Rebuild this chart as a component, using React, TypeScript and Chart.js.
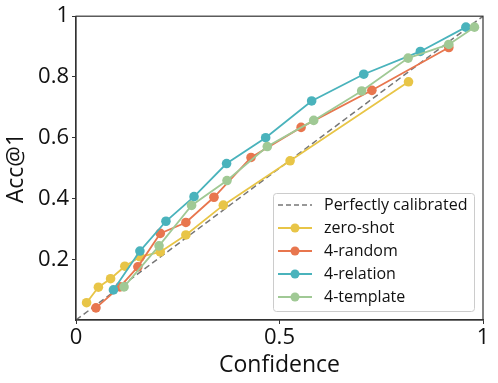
import React, { useEffect, useRef } from "react";
import { Chart, registerables } from "chart.js";

Chart.register(...registerables);

const FONT = '"Open Sans", "Noto Sans", sans-serif';

const seriesNames = ["zero-shot", "4-random", "4-relation", "4-template"];
const seriesColors = ["#E8C547", "#E8764E", "#4AB3BC", "#A0C995"];

const zeroShotX = [0.026, 0.055, 0.085, 0.12, 0.158, 0.207, 0.27, 0.362, 0.526, 0.817];
const zeroShotY = [0.057, 0.108, 0.136, 0.177, 0.208, 0.224, 0.28, 0.378, 0.524, 0.784];

const randomX = [0.049, 0.108, 0.152, 0.207, 0.27, 0.339, 0.43, 0.553, 0.727, 0.916];
const randomY = [0.04, 0.109, 0.175, 0.285, 0.321, 0.404, 0.535, 0.634, 0.756, 0.897];

const relationX = [0.092, 0.157, 0.221, 0.29, 0.37, 0.466, 0.579, 0.707, 0.846, 0.958];
const relationY = [0.099, 0.227, 0.325, 0.406, 0.515, 0.6, 0.721, 0.809, 0.884, 0.964];

const templateX = [0.118, 0.204, 0.284, 0.371, 0.47, 0.584, 0.702, 0.816, 0.916, 0.979];
const templateY = [0.109, 0.244, 0.377, 0.459, 0.571, 0.657, 0.754, 0.862, 0.907, 0.964];

const diagX = [0, 1];
const diagY = [0, 1];

const xTicks = [0, 0.5, 1];
const yTicks = [0.2, 0.4, 0.6, 0.8, 1];

const zip = (xs: number[], ys: number[]) => xs.map((x, i) => ({ x, y: ys[i] }));

const framePlugin = {
  id: "frame",
  afterDatasetsDraw(chart: any) {
    const { ctx, chartArea } = chart;
    ctx.save();
    ctx.strokeStyle = "#333";
    ctx.lineWidth = 1.2;
    ctx.strokeRect(chartArea.left, chartArea.top, chartArea.right - chartArea.left, chartArea.bottom - chartArea.top);
    ctx.restore();
  },
};

const legendPlugin = {
  id: "mplLegend",
  afterDraw(chart: any) {
    const { ctx, chartArea } = chart;
    const w = 201;
    const h = 118;
    const x0 = chartArea.right - 9 - w;
    const y0 = chartArea.bottom - 9 - h;
    ctx.save();
    ctx.fillStyle = "rgba(255,255,255,0.85)";
    ctx.strokeStyle = "#cccccc";
    ctx.lineWidth = 1;
    ctx.beginPath();
    (ctx as any).roundRect(x0 + 0.5, y0 + 0.5, w, h, 3);
    ctx.fill();
    ctx.stroke();
    const labels = ["Perfectly calibrated", ...seriesNames];
    ctx.font = `16px ${FONT}`;
    ctx.textBaseline = "middle";
    labels.forEach((lab, i) => {
      const cy = y0 + 12 + i * 23;
      const lx1 = x0 + 5;
      const lx2 = x0 + 39;
      ctx.beginPath();
      if (i === 0) {
        ctx.strokeStyle = "#777777";
        ctx.setLineDash([5, 3]);
        ctx.lineWidth = 1.5;
      } else {
        ctx.strokeStyle = seriesColors[i - 1];
        ctx.setLineDash([]);
        ctx.lineWidth = 1.8;
      }
      ctx.moveTo(lx1, cy);
      ctx.lineTo(lx2, cy);
      ctx.stroke();
      ctx.setLineDash([]);
      if (i > 0) {
        ctx.fillStyle = seriesColors[i - 1];
        ctx.beginPath();
        ctx.arc((lx1 + lx2) / 2, cy, 4.5, 0, Math.PI * 2);
        ctx.fill();
      }
      ctx.fillStyle = "#111";
      ctx.fillText(lab, x0 + 51, cy);
    });
    ctx.restore();
  },
};

export default function App() {
  const ref = useRef<HTMLCanvasElement | null>(null);
  useEffect(() => {
    if (!ref.current) return;
    const xs = [zeroShotX, randomX, relationX, templateX];
    const ys = [zeroShotY, randomY, relationY, templateY];
    const datasets: any[] = [
      {
        label: "Perfectly calibrated",
        data: zip(diagX, diagY),
        showLine: true,
        borderColor: "#777777",
        borderDash: [6, 3.5],
        borderWidth: 1.5,
        pointRadius: 0,
        order: 10,
      },
      ...seriesNames.map((name, i) => ({
        label: name,
        data: zip(xs[i], ys[i]),
        showLine: true,
        borderColor: seriesColors[i],
        backgroundColor: seriesColors[i],
        borderWidth: 1.8,
        pointRadius: 4.8,
        pointBorderWidth: 0,
        pointHoverRadius: 4.8,
        order: 5 - i,
      })),
    ];
    const chart = new Chart(ref.current, {
      type: "scatter",
      data: { datasets },
      options: {
        animation: false,
        responsive: false,
        events: [],
        layout: { padding: { left: 0, top: 16, right: 15, bottom: 0 } },
        plugins: { legend: { display: false }, tooltip: { enabled: false } },
        scales: {
          x: {
            type: "linear",
            min: 0,
            max: 1,
            afterBuildTicks: (s: any) => {
              s.ticks = xTicks.map((v) => ({ value: v }));
            },
            afterFit: (s: any) => {
              s.height = 63;
            },
            ticks: {
              color: "#111",
              font: { family: FONT, size: 22 },
              padding: 1,
              maxRotation: 0,
              callback: (v: any) => String(v),
            },
            grid: { drawOnChartArea: false, drawTicks: true, tickLength: 4, color: "#333", tickWidth: 1 },
            border: { color: "#333", width: 1.2 },
            title: {
              display: true,
              text: "Confidence",
              color: "#111",
              font: { family: FONT, size: 23 },
              padding: { top: 0, bottom: 4 },
            },
          },
          y: {
            type: "linear",
            min: 0,
            max: 1,
            afterBuildTicks: (s: any) => {
              s.ticks = yTicks.map((v) => ({ value: v }));
            },
            afterFit: (s: any) => {
              s.width = 76;
            },
            ticks: {
              color: "#111",
              font: { family: FONT, size: 22 },
              padding: 3,
              callback: (v: any) => String(v),
            },
            grid: { drawOnChartArea: false, drawTicks: true, tickLength: 4, color: "#333", tickWidth: 1 },
            border: { color: "#333", width: 1.2 },
            title: {
              display: true,
              text: "Acc@1",
              color: "#111",
              font: { family: FONT, size: 23 },
              padding: { top: 3, bottom: 0 },
            },
          },
        },
      },
      plugins: [framePlugin, legendPlugin],
    } as any);
    return () => chart.destroy();
  }, []);
  return (
    <div style={{ position: "absolute", left: 0, top: 0, width: 498, height: 383, background: "#fff" }}>
      <canvas ref={ref} width={498} height={383} style={{ display: "block" }} />
    </div>
  );
}
